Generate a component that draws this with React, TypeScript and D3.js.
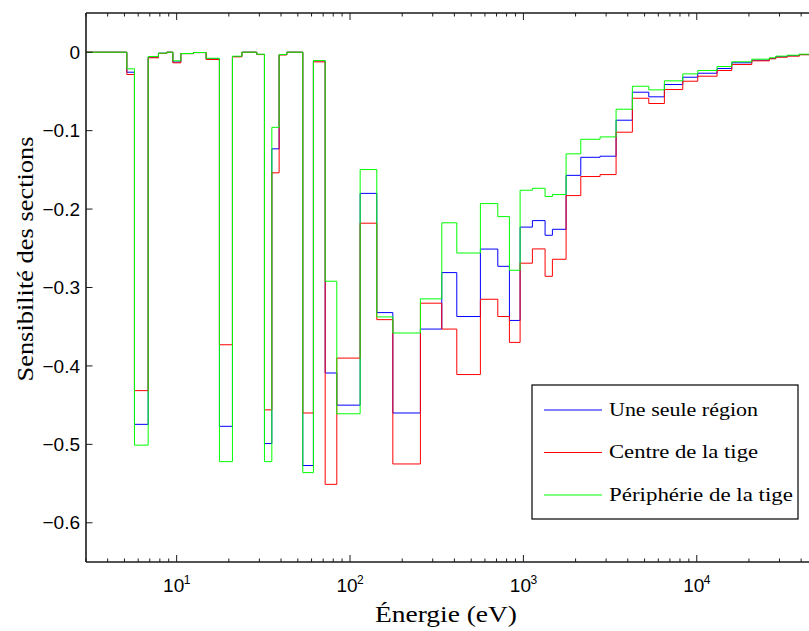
import React from "react";
import * as d3 from "d3";

// Energy group boundaries (eV)
const edges = [
  3.0, 5.16, 5.71, 6.85, 7.85, 8.78, 9.51, 10.57, 12.5, 14.8, 17.65, 20.98, 23.77, 29.0, 32.1,
  35.4, 39.0, 43.2, 53.4, 61.5, 71.9, 83.9, 114.4, 142.7, 176.6, 254.7, 338.3, 412.9, 564.9,
  711.9, 830.6, 957.2, 1127, 1334, 1470, 1763, 2143, 2769, 3425, 4253, 5287, 6505, 8304,
  10134, 13095, 15918, 20764, 26228, 28550, 33310, 39060, 50000,
];

const uneSeuleRegion = [
  0, -0.0255, -0.4745, -0.0063, -0.0013, 0, -0.0125, -0.0017, -0.0004, -0.0085, -0.477,
  -0.0055, 0, -0.0028, -0.499, -0.1232, -0.003, 0, -0.527, -0.011, -0.409, -0.45, -0.18,
  -0.332, -0.46, -0.353, -0.281, -0.337, -0.251, -0.273, -0.342, -0.223, -0.2147, -0.2334,
  -0.2258, -0.157, -0.134, -0.1326, -0.0867, -0.051, -0.0569, -0.0412, -0.0319, -0.0268,
  -0.0208, -0.0135, -0.0102, -0.008, -0.0057, -0.0044, -0.003,
];

const centreTige = [
  0, -0.0284, -0.4315, -0.0071, -0.0015, 0, -0.0135, -0.0018, -0.0005, -0.0093, -0.373,
  -0.0059, 0, -0.003, -0.456, -0.1538, -0.0035, 0, -0.46, -0.0123, -0.551, -0.39, -0.218,
  -0.341, -0.525, -0.32, -0.353, -0.411, -0.315, -0.337, -0.37, -0.269, -0.2508, -0.2857,
  -0.264, -0.1828, -0.1585, -0.156, -0.102, -0.0587, -0.0654, -0.0476, -0.037, -0.0306,
  -0.0233, -0.0157, -0.011, -0.0084, -0.0064, -0.005, -0.0032,
];

const peripherieTige = [
  0, -0.0212, -0.501, -0.0055, -0.0012, 0, -0.011, -0.0016, -0.0004, -0.0077, -0.522,
  -0.0051, 0, -0.0026, -0.522, -0.0958, -0.003, 0, -0.536, -0.0106, -0.292, -0.461, -0.1496,
  -0.3375, -0.358, -0.3145, -0.2175, -0.256, -0.193, -0.2096, -0.278, -0.176, -0.1735, -0.184,
  -0.1815, -0.1296, -0.111, -0.108, -0.0727, -0.0434, -0.048, -0.0365, -0.0276, -0.0233,
  -0.0182, -0.0122, -0.0089, -0.0071, -0.005, -0.0038, -0.0025,
];

const seriesNames = ["Une seule région", "Centre de la tige", "Périphérie de la tige"];
const seriesColors = ["#0000ff", "#ff0000", "#00ff00"];
const yTicks = [0, -0.1, -0.2, -0.3, -0.4, -0.5, -0.6];
const xMajorTicks = [10, 100, 1000, 10000];
const xExponents = ["1", "2", "3", "4"];

const W = 809;
const H = 631;
const left = 86;
const right = 809;
const top = 13;
const bottom = 562;

const SERIF = "'Liberation Serif', 'Times New Roman', serif";
const SANS = "'Liberation Sans', Arial, sans-serif";

export default function App() {
  const x = d3.scaleLog().domain([3.0, 44400]).range([left, right]);
  const y = d3.scaleLinear().domain([-0.65, 0.05]).range([bottom, top]);

  const minorTicks: number[] = [];
  for (let dec = 1; dec <= 10000; dec *= 10) {
    for (let m = 2; m <= 9; m++) {
      const v = m * dec;
      if (v >= 3.0 && v <= 44400) minorTicks.push(v);
    }
  }

  const line = d3
    .line<[number, number]>()
    .x((d) => x(d[0]))
    .y((d) => y(d[1]))
    .curve(d3.curveStepAfter);

  const allSeries = [uneSeuleRegion, centreTige, peripherieTige];
  const paths = allSeries.map((vals) => {
    const pts: [number, number][] = vals.map((v, i) => [edges[i], v]);
    pts.push([edges[edges.length - 1], vals[vals.length - 1]]);
    return line(pts) || "";
  });

  const fmt = (v: number) => (v === 0 ? "0" : d3.format(".1f")(v));
  const axisColor = "#1a1a1a";

  const legendX = 532;
  const legendY = 385;
  const legendW = 266;
  const legendH = 134;
  const legendRows = [410, 452.5, 495];
  const legendTextLen = [149, 149, 184];

  return (
    <svg
      width={W}
      height={H}
      style={{ position: "absolute", left: 0, top: 0, background: "#fff" }}
      xmlns="http://www.w3.org/2000/svg"
    >
      <rect x={0} y={0} width={W} height={H} fill="#fff" />
      <defs>
        <clipPath id="plotclip">
          <rect x={left} y={top} width={right - left} height={bottom - top} />
        </clipPath>
      </defs>

      <g clipPath="url(#plotclip)">
        {paths.map((d, i) => (
          <path key={i} d={d} fill="none" stroke={seriesColors[i]} strokeWidth={1} />
        ))}
      </g>

      {/* axes lines */}
      <line x1={left} y1={top} x2={left} y2={bottom} stroke={axisColor} strokeWidth={1.6} />
      <line x1={left} y1={bottom} x2={right} y2={bottom} stroke={axisColor} strokeWidth={1.6} />
      <line x1={left} y1={top} x2={right} y2={top} stroke={axisColor} strokeWidth={1.6} />

      {/* y ticks */}
      {yTicks.map((v) => (
        <g key={v}>
          <line x1={left} x2={left + 6.5} y1={y(v)} y2={y(v)} stroke={axisColor} strokeWidth={1} />
          <text
            x={80}
            y={y(v)}
            dy="0.35em"
            textAnchor="end"
            style={{ fontFamily: SANS }}
            fontSize={19}
            fill="#000"
          >
            {fmt(v)}
          </text>
        </g>
      ))}

      {/* x minor ticks */}
      {minorTicks.map((v) => (
        <g key={"m" + v}>
          <line x1={x(v)} x2={x(v)} y1={bottom} y2={bottom - 3.5} stroke={axisColor} strokeWidth={1} />
          <line x1={x(v)} x2={x(v)} y1={top} y2={top + 3.5} stroke={axisColor} strokeWidth={1} />
        </g>
      ))}
      {/* x major ticks */}
      {xMajorTicks.map((v, i) => (
        <g key={"M" + v}>
          <line x1={x(v)} x2={x(v)} y1={bottom} y2={bottom - 7} stroke={axisColor} strokeWidth={1} />
          <line x1={x(v)} x2={x(v)} y1={top} y2={top + 7} stroke={axisColor} strokeWidth={1} />
          <text
            x={x(v) - 3}
            y={592}
            textAnchor="middle"
            style={{ fontFamily: SANS }}
            fontSize={19}
            fill="#000"
          >
            10
          </text>
          <text
            x={x(v) + 7}
            y={584}
            textAnchor="start"
            style={{ fontFamily: SANS }}
            fontSize={12}
            fill="#000"
          >
            {xExponents[i]}
          </text>
        </g>
      ))}

      {/* axis labels */}
      <text
        x={446}
        y={622}
        textAnchor="middle"
        style={{ fontFamily: SERIF }}
        fontSize={24}
        textLength={142}
        lengthAdjust="spacingAndGlyphs"
        fill="#000"
      >
        Énergie (eV)
      </text>
      <text
        transform={`translate(33, 259) rotate(-90)`}
        x={0}
        y={0}
        textAnchor="middle"
        style={{ fontFamily: SERIF }}
        fontSize={24}
        textLength={245}
        lengthAdjust="spacingAndGlyphs"
        fill="#000"
      >
        Sensibilité des sections
      </text>

      {/* legend */}
      <rect
        x={legendX}
        y={legendY}
        width={legendW}
        height={legendH}
        fill="#fff"
        stroke="#000"
        strokeWidth={1.2}
      />
      {seriesNames.map((name, i) => (
        <g key={name}>
          <line
            x1={544}
            x2={602}
            y1={legendRows[i]}
            y2={legendRows[i]}
            stroke={seriesColors[i]}
            strokeWidth={1}
          />
          <text
            x={609}
            y={legendRows[i] + 5.5}
            style={{ fontFamily: SERIF }}
            fontSize={18}
            textLength={legendTextLen[i]}
            lengthAdjust="spacingAndGlyphs"
            fill="#000"
          >
            {name}
          </text>
        </g>
      ))}
    </svg>
  );
}
